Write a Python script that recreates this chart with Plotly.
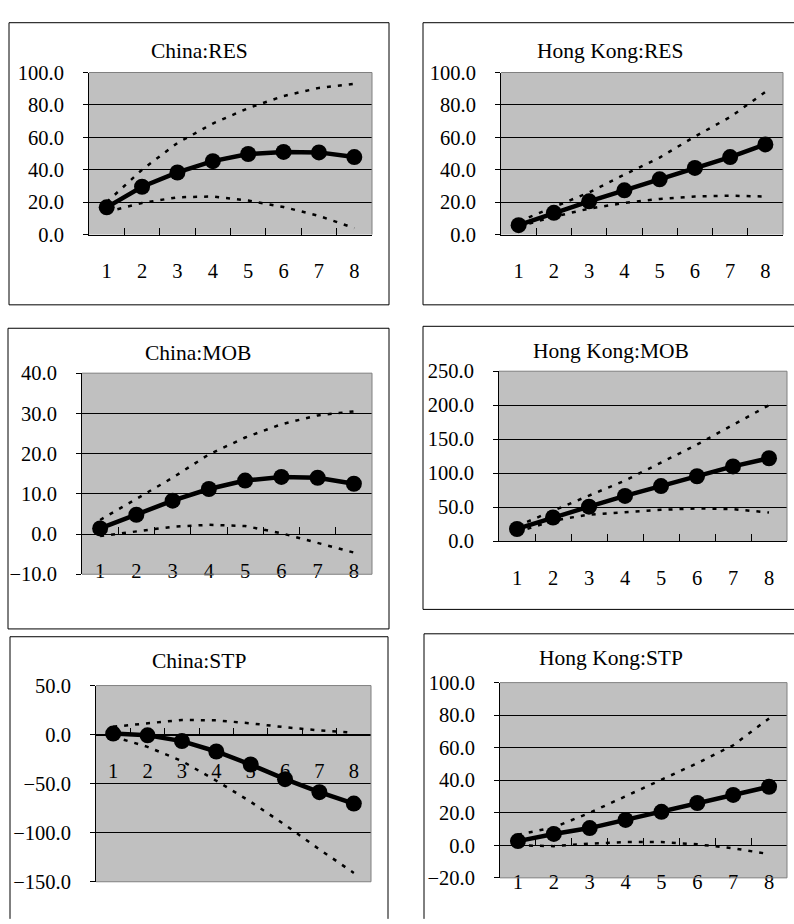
import plotly.graph_objects as go

# ---------------- data ----------------
categories = ["1", "2", "3", "4", "5", "6", "7", "8"]

china_res_mid = [16.8, 29.5, 38.3, 45.3, 49.7, 51.0, 50.7, 47.8]
china_res_up = [20.0, 40.0, 56.5, 68.5, 78.0, 85.5, 90.5, 93.0]
china_res_lo = [14.0, 19.5, 23.0, 23.5, 21.0, 17.0, 11.5, 4.0]

hk_res_mid = [5.8, 13.4, 20.5, 27.3, 34.1, 41.1, 47.8, 55.6]
hk_res_up = [8.0, 17.0, 26.0, 37.0, 47.5, 60.5, 72.5, 88.0]
hk_res_lo = [5.0, 11.0, 16.0, 19.5, 22.0, 23.5, 24.0, 23.5]

china_mob_mid = [1.4, 4.8, 8.3, 11.2, 13.3, 14.2, 14.0, 12.5]
china_mob_up = [3.5, 8.7, 14.0, 19.8, 24.0, 27.3, 29.5, 30.5]
china_mob_lo = [-0.5, 0.6, 1.8, 2.3, 2.0, 0.2, -2.2, -4.6]

hk_mob_mid = [17.8, 34.7, 50.6, 66.5, 81.0, 95.4, 109.9, 121.9]
hk_mob_up = [22.0, 45.0, 67.0, 89.0, 115.0, 142.0, 171.0, 200.0]
hk_mob_lo = [13.0, 30.0, 39.0, 43.0, 46.0, 48.0, 47.0, 42.0]

china_stp_mid = [1.0, -0.7, -6.6, -17.2, -30.5, -45.4, -58.7, -70.3]
china_stp_up = [8.0, 11.5, 15.0, 14.5, 11.5, 7.5, 4.3, 2.0]
china_stp_lo = [-2.0, -12.5, -27.0, -47.0, -68.5, -92.0, -117.0, -141.0]

hk_stp_mid = [2.6, 7.0, 10.6, 15.6, 20.6, 26.0, 31.0, 36.0]
hk_stp_up = [6.5, 11.0, 20.0, 30.0, 40.0, 50.5, 61.5, 78.0]
hk_stp_lo = [0.0, -0.5, 1.0, 2.0, 2.0, 0.6, -1.8, -5.4]

titles = ["China:RES", "Hong Kong:RES", "China:MOB", "Hong Kong:MOB", "China:STP", "Hong Kong:STP"]
y_ranges = [(0, 100), (0, 100), (-10, 40), (0, 250), (-150, 50), (-20, 100)]
y_dticks = [20, 20, 10, 50, 50, 20]

series = [
    (china_res_mid, china_res_up, china_res_lo),
    (hk_res_mid, hk_res_up, hk_res_lo),
    (china_mob_mid, china_mob_up, china_mob_lo),
    (hk_mob_mid, hk_mob_up, hk_mob_lo),
    (china_stp_mid, china_stp_up, china_stp_lo),
    (hk_stp_mid, hk_stp_up, hk_stp_lo),
]

# ---------------- layout (pixel geometry) ----------------
W, H = 794, 924
plot_px = [  # x0, x1, ytop, ybottom
    (89, 372, 63, 229),
    (501, 783, 63, 229),
    (82, 372, 371, 577),
    (499, 787, 369, 543),
    (96, 371, 691, 892),
    (500, 787, 688, 888),
]
title_px = [(199, 41), (610, 41), (198, 350), (611, 348), (198.5, 666), (611, 663)]
# frames: x0, x1, y0, y1, draw right edge, draw bottom edge
frame_px = [
    (9, 389, 12, 301, True, True),
    (423, 800, 12, 301, False, True),
    (8, 389, 325, 633, True, True),
    (423, 800, 323, 613, False, True),
    (10, 388, 641, 930, True, False),
    (424, 800, 638, 930, False, False),
]

FONT = "Liberation Serif, Times New Roman, serif"


def fx(v):
    return v / W


def fy(v):
    return 1 - v / H


fig = go.Figure()
shapes = []
annotations = []

for i, (mid, up, lo) in enumerate(series):
    n = "" if i == 0 else str(i + 1)
    xa, ya = "x" + n, "y" + n
    for band in (up, lo):
        fig.add_trace(go.Scatter(
            x=categories, y=band, xaxis=xa, yaxis=ya, mode="lines",
            line=dict(color="black", width=2.5, dash="4px,7px"),
            showlegend=False, hoverinfo="skip"))
    fig.add_trace(go.Scatter(
        x=categories, y=mid, xaxis=xa, yaxis=ya, mode="lines+markers",
        line=dict(color="black", width=4.5),
        marker=dict(color="black", size=16),
        showlegend=False))

    x0, x1, yt, yb = plot_px[i]
    ymin, ymax = y_ranges[i]
    ydom = [fy(yb), fy(yt)]
    xdom = [fx(x0), fx(x1)]
    pos = ydom[0] + (0 - ymin) / (ymax - ymin) * (ydom[1] - ydom[0])

    xaxis = dict(
        domain=xdom, type="category", range=[-0.5, 7.5],
        tickson="boundaries", ticks="inside", ticklen=7, tickcolor="black",
        showline=True, linecolor="black", linewidth=1, showgrid=False,
        zeroline=False, tickfont=dict(family=FONT, size=20.5, color="black"),
        ticklabelstandoff=18, layer="below traces", fixedrange=True,
    )
    if ymin < 0:
        xaxis.update(anchor="free", position=pos)
    else:
        xaxis.update(anchor=ya)
    yaxis = dict(
        domain=ydom, range=[ymin, ymax], dtick=y_dticks[i], tick0=0,
        tickformat=".1f", ticks="outside", ticklen=5, tickcolor="black",
        showline=True, linecolor="black", linewidth=1,
        showgrid=True, gridcolor="black", gridwidth=1, zeroline=False,
        tickfont=dict(family=FONT, size=20.5, color="black"),
        ticklabelstandoff=15, anchor=xa, fixedrange=True,
    )
    fig.update_layout(**{("xaxis" + n): xaxis, ("yaxis" + n): yaxis})

    # plot-area border (grey): top, right, and bottom when axis is elsewhere
    xd, yd = xa + " domain", ya + " domain"
    border = [(0, 1, 1, 1), (1, 1, 0, 1)]
    if ymin < 0:
        border.append((0, 1, 0, 0))
    for bx0, bx1, by0, by1 in border:
        shapes.append(dict(type="line", xref=xd, yref=yd, x0=bx0, x1=bx1, y0=by0, y1=by1,
                           line=dict(color="#808080", width=1), layer="above"))

    tx, ty = title_px[i]
    annotations.append(dict(text=titles[i], x=fx(tx), y=fy(ty), xref="paper", yref="paper",
                            xanchor="center", yanchor="middle", showarrow=False,
                            font=dict(family=FONT, size=21.5, color="black")))

    bx0, bx1, by0, by1, right, bottom = frame_px[i]
    lines = [(bx0, bx1, by0, by0), (bx0, bx0, by0, by1)]
    if right:
        lines.append((bx1, bx1, by0, by1))
    if bottom:
        lines.append((bx0, bx1, by1, by1))
    for lx0, lx1, ly0, ly1 in lines:
        shapes.append(dict(type="line", xref="paper", yref="paper",
                           x0=fx(lx0), x1=fx(lx1), y0=fy(ly0), y1=fy(ly1),
                           line=dict(color="black", width=1)))

fig.update_layout(
    width=W, height=H, margin=dict(l=0, r=0, t=0, b=0),
    paper_bgcolor="white", plot_bgcolor="#C0C0C0",
    shapes=shapes, annotations=annotations, showlegend=False,
    font=dict(family=FONT, color="black"),
)

fig.write_html(
    "out.html",
    config={"displayModeBar": False},
    post_script="document.body.style.margin='0';document.body.style.overflow='hidden';",
)
